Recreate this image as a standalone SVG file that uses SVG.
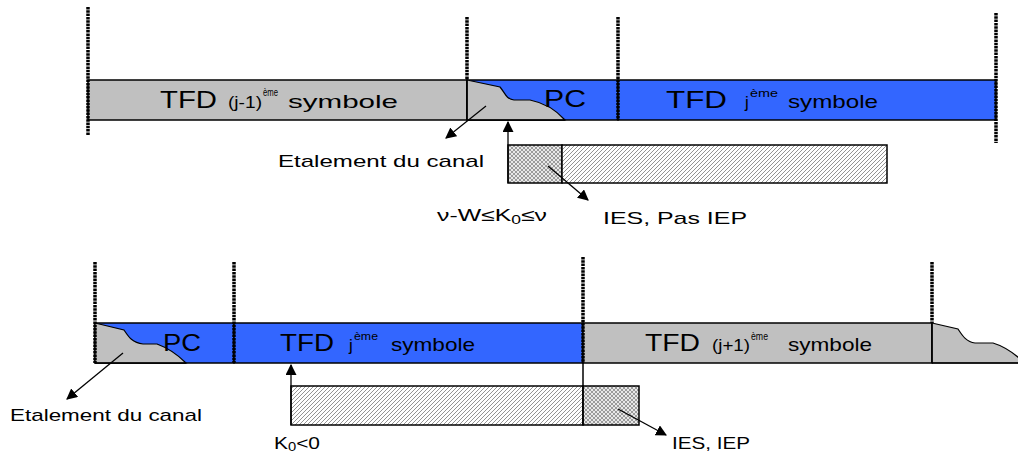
<svg xmlns="http://www.w3.org/2000/svg" width="1018" height="459" viewBox="0 0 1018 459">
<style>
.t{font-family:"Liberation Sans",Arial,sans-serif;fill:#000}
.big{font-size:24px}
.mid{font-size:19px}
.sm{font-size:17px}
.sup{font-size:11px}
.lbl{font-size:17px}
.gray{fill:#C0C0C0}
.blue{fill:#3366FF}
.bar{stroke:#000;stroke-width:1.5}
.dot{stroke:#000;stroke-width:3.5;stroke-dasharray:2.5 0.8;fill:none}
.solid{stroke:#000;stroke-width:1.5;fill:none}
.edge{stroke:#000;stroke-width:1.2}
.arr{stroke:#000;stroke-width:1.3;fill:none;marker-end:url(#ah)}
.hatch{fill:url(#diag);stroke:#000;stroke-width:1.5}
.cross{fill:url(#xh);stroke:#000;stroke-width:1.5}
</style>
<defs>
<marker id="ah" viewBox="0 0 10 10" refX="9" refY="5" markerWidth="11" markerHeight="11" markerUnits="userSpaceOnUse" orient="auto">
<path d="M0,0 L10,5 L0,10 Z" fill="#000"/>
</marker>
<pattern id="diag" width="4" height="4" patternUnits="userSpaceOnUse">
<rect width="4" height="4" fill="#fff"/>
<path d="M-1,1 L1,-1 M0,4 L4,0 M3,5 L5,3" stroke="#666" stroke-width="0.7"/>
</pattern>
<pattern id="xh" width="4" height="4" patternUnits="userSpaceOnUse">
<rect width="4" height="4" fill="#e8e8e8"/>
<path d="M-1,1 L1,-1 M0,4 L4,0 M3,5 L5,3 M-1,3 L1,5 M0,0 L4,4 M3,-1 L5,1" stroke="#666" stroke-width="0.6"/>
</pattern>
</defs>

<g id="top-row">
<g id="top-prev-symbol">
<rect class="gray bar" x="88" y="80" width="379" height="40"/>
<text class="t" y="108"><tspan class="big" x="160" textLength="57" lengthAdjust="spacingAndGlyphs">TFD</tspan><tspan class="sm" x="228" textLength="34" lengthAdjust="spacingAndGlyphs">(j-1)</tspan><tspan class="sup" x="263" y="96" textLength="15" lengthAdjust="spacingAndGlyphs">ème</tspan><tspan class="mid" x="288" y="108" textLength="110" lengthAdjust="spacingAndGlyphs">symbole</tspan></text>
</g>
<g id="top-pc">
<rect class="blue bar" x="467" y="80" width="151" height="40"/>
<path class="gray edge" d="M467,80 L500,87 C505,93 506,99 514,100 L530,100 C545,103 556,110 565,120 L467,120 Z"/>
<line class="solid" x1="467" y1="120" x2="565" y2="120"/>
<text class="t big" x="544" y="107" textLength="42" lengthAdjust="spacingAndGlyphs">PC</text>
</g>
<g id="top-cur-symbol">
<rect class="blue bar" x="618" y="80" width="378" height="40"/>
<text class="t" y="108"><tspan class="big" x="666" textLength="61" lengthAdjust="spacingAndGlyphs">TFD</tspan><tspan class="sm" x="745">j</tspan><tspan class="sup" x="750" y="97" textLength="28" lengthAdjust="spacingAndGlyphs">ème</tspan><tspan class="mid" x="788" y="108" textLength="90" lengthAdjust="spacingAndGlyphs">symbole</tspan></text>
</g>
<g id="top-window">
<rect class="cross" x="508" y="145" width="54" height="38"/>
<rect class="hatch" x="562" y="145" width="325" height="38"/>
</g>
<g id="top-labels">
<text class="t lbl" x="278" y="167" textLength="206" lengthAdjust="spacingAndGlyphs">Etalement du canal</text>
<text class="t lbl" x="437" y="221" textLength="110" lengthAdjust="spacingAndGlyphs">ν-W≤K<tspan font-size="12" dy="3">0</tspan><tspan dy="-3">≤ν</tspan></text>
<text class="t lbl" x="603" y="224" textLength="144" lengthAdjust="spacingAndGlyphs">IES, Pas IEP</text>
</g>
</g>

<g id="bottom-row">
<g id="bot-pc">
<rect class="blue bar" x="95" y="323" width="139" height="40"/>
<path class="gray edge" d="M95,323 L124,330 C128,336 132,343 143,344 L157,344 C168,348 178,355 186,363 L95,363 Z"/>
<line class="solid" x1="95" y1="363" x2="186" y2="363"/>
<text class="t big" x="163" y="351" textLength="38" lengthAdjust="spacingAndGlyphs">PC</text>
</g>
<g id="bot-cur-symbol">
<rect class="blue bar" x="234" y="323" width="349" height="40"/>
<text class="t" y="351"><tspan class="big" x="280" textLength="54" lengthAdjust="spacingAndGlyphs">TFD</tspan><tspan class="sm" x="349">j</tspan><tspan class="sup" x="354" y="340" textLength="24" lengthAdjust="spacingAndGlyphs">ème</tspan><tspan class="mid" x="391" y="351" textLength="84" lengthAdjust="spacingAndGlyphs">symbole</tspan></text>
</g>
<g id="bot-next-symbol">
<rect class="gray bar" x="583" y="323" width="349" height="40"/>
<text class="t" y="351"><tspan class="big" x="645" textLength="55" lengthAdjust="spacingAndGlyphs">TFD</tspan><tspan class="sm" x="712" textLength="38" lengthAdjust="spacingAndGlyphs">(j+1)</tspan><tspan class="sup" x="751" y="340" textLength="17" lengthAdjust="spacingAndGlyphs">ème</tspan><tspan class="mid" x="788" y="351" textLength="84" lengthAdjust="spacingAndGlyphs">symbole</tspan></text>
</g>
<g id="bot-tail">
<path class="gray edge" d="M932,323 L958,329 C962,335 966,342 975,343 L993,343 C1003,346 1012,352 1019,358 L1019,363 L932,363 Z"/>
<line class="solid" x1="932" y1="363" x2="1018" y2="363"/>
</g>
<g id="bot-window">
<rect class="hatch" x="291" y="386" width="292" height="39"/>
<rect class="cross" x="583" y="386" width="56" height="39"/>
</g>
<g id="bot-labels">
<text class="t lbl" x="10" y="421" textLength="192" lengthAdjust="spacingAndGlyphs">Etalement du canal</text>
<text class="t lbl" x="274" y="449" textLength="46" lengthAdjust="spacingAndGlyphs">K<tspan font-size="12" dy="2">0</tspan><tspan dy="-2">&lt;0</tspan></text>
<text class="t lbl" x="672" y="449" textLength="78" lengthAdjust="spacingAndGlyphs">IES, IEP</text>
</g>
</g>

<g id="boundaries">
<line class="dot" x1="88" y1="7" x2="88" y2="135"/>
<line class="dot" x1="467" y1="17" x2="467" y2="80"/>
<line class="solid" x1="467" y1="80" x2="467" y2="120"/>
<line class="dot" x1="618" y1="17" x2="618" y2="120"/>
<line class="dot" x1="996" y1="13" x2="996" y2="143"/>
<line class="dot" x1="95" y1="262" x2="95" y2="363"/>
<line class="dot" x1="234" y1="262" x2="234" y2="363"/>
<line class="dot" x1="583" y1="257" x2="583" y2="363"/>
<line class="solid" x1="583" y1="363" x2="583" y2="425"/>
<line class="dot" x1="932" y1="262" x2="932" y2="323"/>
<line class="solid" x1="932" y1="323" x2="932" y2="363"/>
</g>

<g id="connectors">
<line class="arr" x1="486" y1="106" x2="446" y2="138"/>
<line class="arr" x1="508" y1="183" x2="508" y2="122"/>
<line class="arr" x1="548" y1="166" x2="588" y2="200"/>
<line class="arr" x1="123" y1="353" x2="67" y2="399"/>
<line class="arr" x1="291" y1="425" x2="291" y2="365"/>
<line class="arr" x1="618" y1="409" x2="666" y2="435"/>
</g>
</svg>
